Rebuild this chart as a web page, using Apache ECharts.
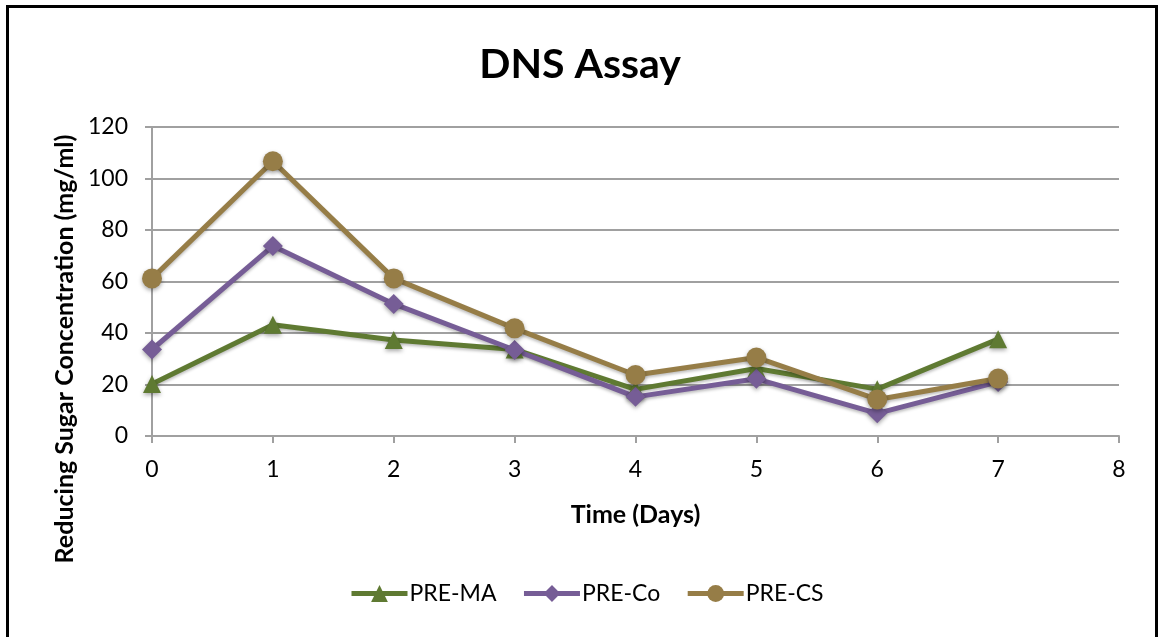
<!DOCTYPE html>
<html>
<head>
<meta charset="utf-8">
<script src="https://cdn.jsdelivr.net/npm/echarts@6/dist/echarts.min.js"></script>
<style>
  html, body { margin: 0; padding: 0; background: #fff; }
  #chart { width: 1160px; height: 637px; }
</style>
</head>
<body>
<div id="chart"></div>
<script>
// Time points (days) and reducing sugar readings (mg/ml)
const days = [0, 1, 2, 3, 4, 5, 6, 7];
const preMA = [20.2, 43.2, 37.3, 33.6, 18.1, 26.2, 18.2, 37.6];
const preCo = [33.6, 73.8, 51.3, 33.4, 15.2, 22.2, 8.8, 21];
const preCS = [61.2, 106.7, 61.2, 41.8, 23.7, 30.5, 14.2, 22.3];
const seriesNames = ['PRE-MA', 'PRE-Co', 'PRE-CS'];
const yTicks = [0, 20, 40, 60, 80, 100, 120];
const xTicks = [0, 1, 2, 3, 4, 5, 6, 7, 8];

const FONT = 'Lato, "Open Sans", sans-serif';
const colors = ['#5f7a32', '#765d96', '#967d47'];
const symbols = ['triangle', 'diamond', 'circle'];
const symbolSizes = [18, 20, 20];

const pairs = arr => days.map((d, i) => [d, arr[i]]);
const values = [preMA, preCo, preCS];

const chart = echarts.init(document.getElementById('chart'), null, { renderer: 'canvas' });

chart.setOption({
  backgroundColor: '#fff',
  animation: false,
  title: {
    text: 'DNS Assay',
    left: 'center',
    top: 39,
    textStyle: { fontFamily: FONT, fontWeight: 'bold', fontSize: 41, color: '#000' }
  },
  legend: {
    bottom: 27,
    left: 344,
    itemWidth: 56,
    itemHeight: 21,
    itemGap: 25,
    data: seriesNames,
    lineStyle: { width: 5 },
    textStyle: { fontFamily: FONT, fontSize: 23, color: '#000', padding: [0, 0, 0, -3] }
  },
  grid: { left: 152, right: 41, top: 127, bottom: 201, containLabel: false },
  xAxis: {
    type: 'value',
    min: xTicks[0],
    max: xTicks[xTicks.length - 1],
    interval: 1,
    name: 'Time (Days)',
    nameLocation: 'middle',
    nameGap: 66,
    nameTextStyle: { fontFamily: FONT, fontWeight: 'bold', fontSize: 25, color: '#000' },
    axisLine: { show: true, lineStyle: { color: '#a0a0a0', width: 2 } },
    axisTick: { show: true, length: 7, lineStyle: { color: '#a0a0a0', width: 2 } },
    axisLabel: { fontFamily: FONT, fontSize: 23, color: '#000', margin: 22 },
    splitLine: { show: false }
  },
  yAxis: {
    type: 'value',
    min: yTicks[0],
    max: yTicks[yTicks.length - 1],
    interval: 20,
    axisLine: { show: true, lineStyle: { color: '#a0a0a0', width: 2 } },
    axisTick: { show: true, length: 7, lineStyle: { color: '#a0a0a0', width: 2 } },
    axisLabel: { fontFamily: FONT, fontSize: 23, color: '#000', margin: 24 },
    splitLine: { show: true, lineStyle: { color: '#a0a0a0', width: 2 } }
  },
  graphic: [
    {
      type: 'rect',
      shape: { x: 7.5, y: 6.5, width: 1149, height: 660 },
      style: { fill: 'none', stroke: '#000', lineWidth: 3 },
      silent: true
    },
    {
      type: 'text',
      x: 65,
      y: 349,
      rotation: Math.PI / 2,
      style: {
        text: 'Reducing Sugar Concentration (mg/ml)',
        fontFamily: FONT,
        fontWeight: 'bold',
        fontSize: 25,
        fill: '#000',
        align: 'center',
        verticalAlign: 'middle'
      }
    }
  ],
  series: seriesNames.map((name, i) => ({
    name,
    type: 'line',
    data: pairs(values[i]),
    symbol: symbols[i],
    symbolSize: symbolSizes[i],
    showAllSymbol: true,
    lineStyle: {
      color: colors[i], width: 5,
      shadowColor: 'rgba(0,0,0,0.25)', shadowBlur: 3, shadowOffsetY: 2
    },
    itemStyle: {
      color: colors[i], borderWidth: 0,
      shadowColor: 'rgba(0,0,0,0.35)', shadowBlur: 4, shadowOffsetY: 2
    },
    emphasis: { disabled: true }
  }))
});
</script>
</body>
</html>
